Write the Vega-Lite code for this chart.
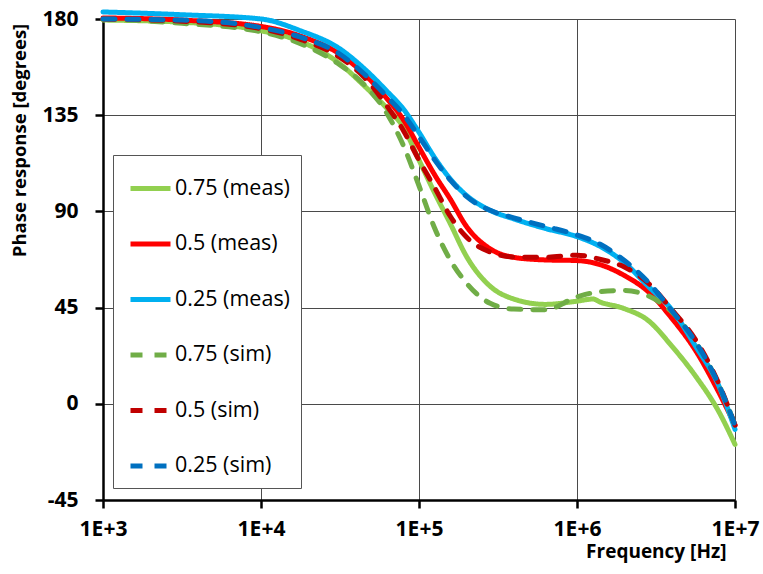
{
  "$schema": "https://vega.github.io/schema/vega-lite/v6.json",
  "width": 632,
  "height": 481,
  "autosize": {"type": "none"},
  "padding": {"left": 103, "top": 19, "right": 28, "bottom": 74},
  "background": "white",
  "config": {
    "view": {"stroke": null},
    "font": "Open Sans",
    "axis": {"gridColor": "#4a4a4a", "gridWidth": 1, "gridOpacity": 1, "domainColor": "#000000", "domainWidth": 2.5, "tickColor": "#000000", "tickWidth": 2.5, "tickSize": 8, "labelFont": "Open Sans", "labelFontWeight": "bold", "labelFontSize": 21, "labelColor": "#000000", "titleFont": "Open Sans", "titleFontWeight": "bold", "titleColor": "#000000"}
  },
  "data": {"values": [
    {"f":1000,"phase":179.5,"series":"0.75 (meas)"},{"f":3162,"phase":178.5,"series":"0.75 (meas)"},{"f":10000,"phase":174.5,"series":"0.75 (meas)"},{"f":17783,"phase":169.5,"series":"0.75 (meas)"},{"f":31623,"phase":159,"series":"0.75 (meas)"},{"f":44668,"phase":149,"series":"0.75 (meas)"},{"f":63096,"phase":138,"series":"0.75 (meas)"},{"f":79433,"phase":129.5,"series":"0.75 (meas)"},{"f":100000,"phase":114,"series":"0.75 (meas)"},{"f":125893,"phase":98.5,"series":"0.75 (meas)"},{"f":158489,"phase":84,"series":"0.75 (meas)"},{"f":199526,"phase":69,"series":"0.75 (meas)"},{"f":281838,"phase":55,"series":"0.75 (meas)"},{"f":398107,"phase":49,"series":"0.75 (meas)"},{"f":630957,"phase":46.5,"series":"0.75 (meas)"},{"f":1000000,"phase":48,"series":"0.75 (meas)"},{"f":1258925,"phase":49,"series":"0.75 (meas)"},{"f":1412538,"phase":47.5,"series":"0.75 (meas)"},{"f":1995262,"phase":44.5,"series":"0.75 (meas)"},{"f":2818383,"phase":39,"series":"0.75 (meas)"},{"f":3981072,"phase":27,"series":"0.75 (meas)"},{"f":5623413,"phase":13,"series":"0.75 (meas)"},{"f":7943282,"phase":-4,"series":"0.75 (meas)"},{"f":10000000,"phase":-19,"series":"0.75 (meas)"},
    {"f":1000,"phase":180.5,"series":"0.5 (meas)"},{"f":3162,"phase":179.5,"series":"0.5 (meas)"},{"f":10000,"phase":176.5,"series":"0.5 (meas)"},{"f":17783,"phase":172,"series":"0.5 (meas)"},{"f":31623,"phase":163.5,"series":"0.5 (meas)"},{"f":44668,"phase":154.5,"series":"0.5 (meas)"},{"f":63096,"phase":142.5,"series":"0.5 (meas)"},{"f":79433,"phase":133,"series":"0.5 (meas)"},{"f":100000,"phase":120,"series":"0.5 (meas)"},{"f":125893,"phase":107,"series":"0.5 (meas)"},{"f":158489,"phase":95.5,"series":"0.5 (meas)"},{"f":199526,"phase":83,"series":"0.5 (meas)"},{"f":281838,"phase":72.5,"series":"0.5 (meas)"},{"f":398107,"phase":68.5,"series":"0.5 (meas)"},{"f":630957,"phase":67.3,"series":"0.5 (meas)"},{"f":1000000,"phase":67,"series":"0.5 (meas)"},{"f":1412538,"phase":65,"series":"0.5 (meas)"},{"f":1995262,"phase":60,"series":"0.5 (meas)"},{"f":2818383,"phase":52.5,"series":"0.5 (meas)"},{"f":3981072,"phase":40,"series":"0.5 (meas)"},{"f":5623413,"phase":25,"series":"0.5 (meas)"},{"f":7943282,"phase":5,"series":"0.5 (meas)"},{"f":10000000,"phase":-10,"series":"0.5 (meas)"},
    {"f":1000,"phase":183.3,"series":"0.25 (meas)"},{"f":3162,"phase":182,"series":"0.25 (meas)"},{"f":10000,"phase":180,"series":"0.25 (meas)"},{"f":17783,"phase":174.5,"series":"0.25 (meas)"},{"f":31623,"phase":166,"series":"0.25 (meas)"},{"f":44668,"phase":157,"series":"0.25 (meas)"},{"f":63096,"phase":146,"series":"0.25 (meas)"},{"f":79433,"phase":138,"series":"0.25 (meas)"},{"f":100000,"phase":127,"series":"0.25 (meas)"},{"f":125893,"phase":115,"series":"0.25 (meas)"},{"f":158489,"phase":105,"series":"0.25 (meas)"},{"f":199526,"phase":97.5,"series":"0.25 (meas)"},{"f":281838,"phase":90.5,"series":"0.25 (meas)"},{"f":398107,"phase":86.5,"series":"0.25 (meas)"},{"f":630957,"phase":82,"series":"0.25 (meas)"},{"f":1000000,"phase":78.2,"series":"0.25 (meas)"},{"f":1412538,"phase":73.5,"series":"0.25 (meas)"},{"f":1995262,"phase":66,"series":"0.25 (meas)"},{"f":2818383,"phase":55,"series":"0.25 (meas)"},{"f":3981072,"phase":44,"series":"0.25 (meas)"},{"f":5623413,"phase":27,"series":"0.25 (meas)"},{"f":7943282,"phase":8,"series":"0.25 (meas)"},{"f":10000000,"phase":-12,"series":"0.25 (meas)"},
    {"f":1000,"phase":180,"series":"0.75 (sim)"},{"f":3162,"phase":178,"series":"0.75 (sim)"},{"f":10000,"phase":174,"series":"0.75 (sim)"},{"f":17783,"phase":168.5,"series":"0.75 (sim)"},{"f":31623,"phase":158.5,"series":"0.75 (sim)"},{"f":44668,"phase":149.5,"series":"0.75 (sim)"},{"f":63096,"phase":135.5,"series":"0.75 (sim)"},{"f":79433,"phase":121,"series":"0.75 (sim)"},{"f":100000,"phase":102,"series":"0.75 (sim)"},{"f":125893,"phase":82,"series":"0.75 (sim)"},{"f":158489,"phase":67,"series":"0.75 (sim)"},{"f":199526,"phase":56.5,"series":"0.75 (sim)"},{"f":281838,"phase":47,"series":"0.75 (sim)"},{"f":398107,"phase":44.3,"series":"0.75 (sim)"},{"f":630957,"phase":44,"series":"0.75 (sim)"},{"f":1000000,"phase":50,"series":"0.75 (sim)"},{"f":1412538,"phase":52.5,"series":"0.75 (sim)"},{"f":1995262,"phase":53,"series":"0.75 (sim)"},{"f":2818383,"phase":50.5,"series":"0.75 (sim)"},{"f":3981072,"phase":43,"series":"0.75 (sim)"},{"f":5623413,"phase":29,"series":"0.75 (sim)"},{"f":7943282,"phase":8.5,"series":"0.75 (sim)"},{"f":10000000,"phase":-10,"series":"0.75 (sim)"},
    {"f":1000,"phase":180,"series":"0.5 (sim)"},{"f":3162,"phase":179,"series":"0.5 (sim)"},{"f":10000,"phase":175.5,"series":"0.5 (sim)"},{"f":17783,"phase":170.5,"series":"0.5 (sim)"},{"f":31623,"phase":162,"series":"0.5 (sim)"},{"f":44668,"phase":153,"series":"0.5 (sim)"},{"f":63096,"phase":139,"series":"0.5 (sim)"},{"f":79433,"phase":128,"series":"0.5 (sim)"},{"f":100000,"phase":114,"series":"0.5 (sim)"},{"f":125893,"phase":101,"series":"0.5 (sim)"},{"f":158489,"phase":87.5,"series":"0.5 (sim)"},{"f":199526,"phase":78,"series":"0.5 (sim)"},{"f":281838,"phase":71,"series":"0.5 (sim)"},{"f":398107,"phase":68.7,"series":"0.5 (sim)"},{"f":630957,"phase":68.5,"series":"0.5 (sim)"},{"f":1000000,"phase":69.5,"series":"0.5 (sim)"},{"f":1412538,"phase":67.5,"series":"0.5 (sim)"},{"f":1995262,"phase":64,"series":"0.5 (sim)"},{"f":2818383,"phase":56.5,"series":"0.5 (sim)"},{"f":3981072,"phase":44,"series":"0.5 (sim)"},{"f":5623413,"phase":30,"series":"0.5 (sim)"},{"f":7943282,"phase":9,"series":"0.5 (sim)"},{"f":10000000,"phase":-10,"series":"0.5 (sim)"},
    {"f":1000,"phase":180,"series":"0.25 (sim)"},{"f":3162,"phase":179.5,"series":"0.25 (sim)"},{"f":10000,"phase":176,"series":"0.25 (sim)"},{"f":17783,"phase":171.5,"series":"0.25 (sim)"},{"f":31623,"phase":163.5,"series":"0.25 (sim)"},{"f":44668,"phase":154.5,"series":"0.25 (sim)"},{"f":63096,"phase":143.5,"series":"0.25 (sim)"},{"f":79433,"phase":135.5,"series":"0.25 (sim)"},{"f":100000,"phase":125,"series":"0.25 (sim)"},{"f":125893,"phase":114,"series":"0.25 (sim)"},{"f":158489,"phase":104.5,"series":"0.25 (sim)"},{"f":199526,"phase":97,"series":"0.25 (sim)"},{"f":281838,"phase":90.5,"series":"0.25 (sim)"},{"f":398107,"phase":87,"series":"0.25 (sim)"},{"f":630957,"phase":83,"series":"0.25 (sim)"},{"f":1000000,"phase":79,"series":"0.25 (sim)"},{"f":1412538,"phase":74.5,"series":"0.25 (sim)"},{"f":1995262,"phase":67,"series":"0.25 (sim)"},{"f":2818383,"phase":57,"series":"0.25 (sim)"},{"f":3981072,"phase":43.5,"series":"0.25 (sim)"},{"f":5623413,"phase":29,"series":"0.25 (sim)"},{"f":7943282,"phase":8.5,"series":"0.25 (sim)"},{"f":10000000,"phase":-10,"series":"0.25 (sim)"}
  ]},
  "mark": {"type": "line", "strokeCap": "round", "interpolate": "monotone", "clip": false},
  "encoding": {
    "x": {"field": "f", "type": "quantitative", "scale": {"type": "log", "domain": [1000, 10000000], "nice": false},
      "axis": {"values": [1000, 10000, 100000, 1000000, 10000000], "labelExpr": "'1E+' + round(log(datum.value)/LN10)", "labelPadding": 10, "labelFlush": false, "title": "Frequency [Hz]", "titleFontSize": 19, "titleAnchor": "end", "titleAlign": "right", "titleX": 623, "titleY": 57, "titleBaseline": "alphabetic"}},
    "y": {"field": "phase", "type": "quantitative", "scale": {"domain": [-45, 180], "nice": false},
      "axis": {"values": [-45, 0, 45, 90, 135, 180], "labelExpr": "datum.value < 0 ? '-' + abs(datum.value) : '' + datum.value", "labelPadding": 17, "title": "Phase response [degrees]", "titleFontSize": 18.5, "titleAngle": -90, "titleX": -84, "titleY": 121, "titleAlign": "center", "titleBaseline": "middle"}},
    "color": {"field": "series", "type": "nominal",
      "scale": {"domain": ["0.75 (meas)", "0.5 (meas)", "0.25 (meas)", "0.75 (sim)", "0.5 (sim)", "0.25 (sim)"], "range": ["#92D050", "#FF0000", "#00B0F0", "#70AD47", "#C00000", "#0070C0"]},
      "legend": {"title": null, "orient": "none", "legendX": 10, "legendY": 136, "symbolType": "stroke", "symbolSize": 1600, "symbolStrokeWidth": 5, "symbolOffset": 4, "labelFontSize": 21.5, "labelFont": "Open Sans", "labelColor": "#000000", "labelOffset": 2, "rowPadding": 22.5, "padding": 11, "strokeColor": "#555555", "fillColor": "white", "cornerRadius": 0}},
    "strokeDash": {"field": "series", "type": "nominal",
      "scale": {"domain": ["0.75 (meas)", "0.5 (meas)", "0.25 (meas)", "0.75 (sim)", "0.5 (sim)", "0.25 (sim)"], "range": [[1, 0], [1, 0], [1, 0], [12, 12], [12, 12], [12, 12]]},
      "legend": {"title": null}},
    "strokeWidth": {"field": "series", "type": "nominal",
      "scale": {"domain": ["0.75 (meas)", "0.5 (meas)", "0.25 (meas)", "0.75 (sim)", "0.5 (sim)", "0.25 (sim)"], "range": [5, 5, 5, 6, 6, 6]},
      "legend": null}
  }
}
